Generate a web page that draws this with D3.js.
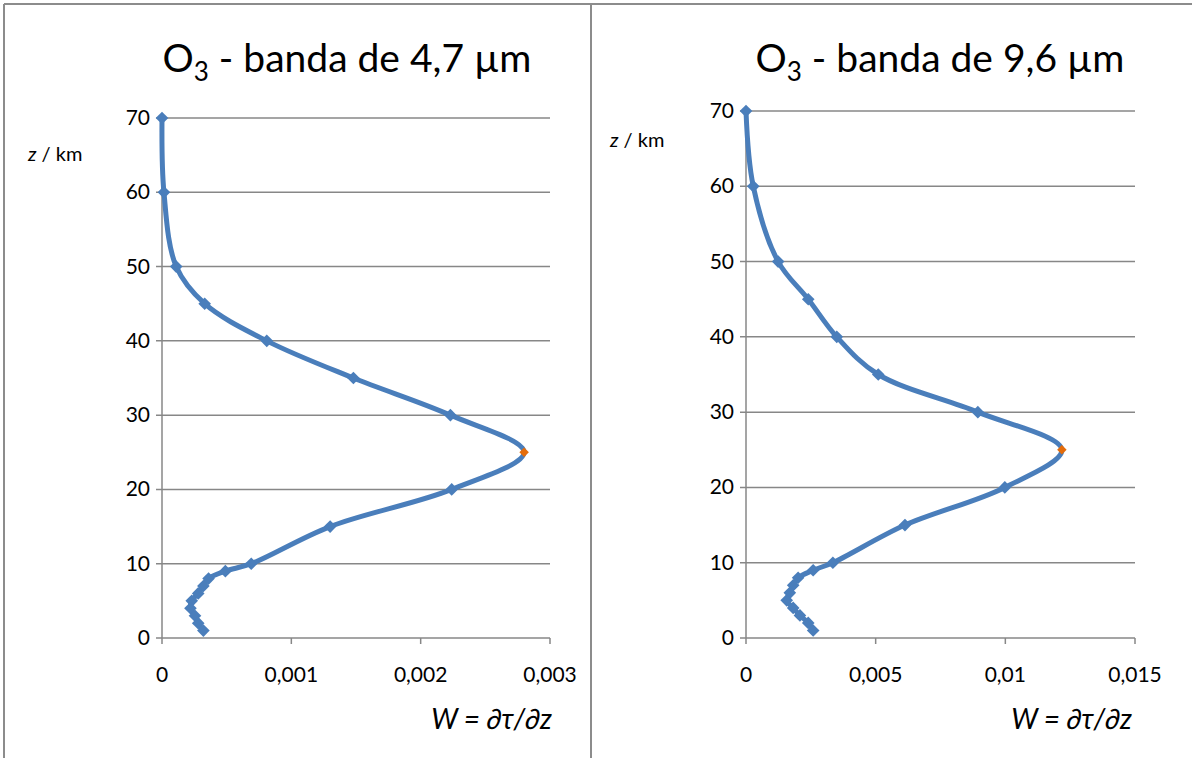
<!DOCTYPE html>
<html>
<head>
<meta charset="UTF-8">
<title>O3 - funciones peso</title>
<style>
  body { margin: 0; background: #fff; }
  text { font-family: Lato, "Open Sans", sans-serif; fill: #000; }
  .grid line { stroke: #878787; stroke-width: 1.5; }
</style>
</head>
<body>
<svg id="chart"></svg>
<script src="https://d3js.org/d3.v7.min.js"></script>
<script>

// altitude levels (km) and weighting function W = dtau/dz for each band
const zKm = [70, 60, 50, 45, 40, 35, 30, 25, 20, 15, 10, 9, 8, 7, 6, 5, 4, 3, 2, 1];
const wBand47 = [0, 0.000015, 0.00011, 0.00033, 0.00081, 0.00148, 0.00223, 0.0028, 0.00224, 0.0013,
                 0.00069, 0.00049, 0.00036, 0.00032, 0.00028, 0.00023, 0.00022, 0.000255, 0.00028, 0.00032];
const wBand96 = [0, 0.00028, 0.00124, 0.0024, 0.0035, 0.0051, 0.00894, 0.01218, 0.00998, 0.00613,
                 0.00335, 0.00259, 0.00201, 0.00182, 0.00169, 0.00157, 0.00182, 0.00208, 0.0024, 0.00259];
const peakZ = 25;
const yTicks = [0, 10, 20, 30, 40, 50, 60, 70];
const xTicks47 = [0, 0.001, 0.002, 0.003];
const xTicks96 = [0, 0.005, 0.01, 0.015];
const titles = ["4,7 µm", "9,6 µm"];

const width = 1192, height = 758;
const svg = d3.select("#chart").attr("width", width).attr("height", height);

const locale = d3.formatLocale({decimal: ",", thousands: ".", grouping: [3], currency: ["", ""]});
const fmt = locale.format("~g");

const blue = "#4a7ebb", orange = "#e46c0a";

// chart frames
svg.append("line").attr("x1", 4).attr("x2", width).attr("y1", 4).attr("y2", 4)
    .attr("stroke", "#8c8c8c").attr("stroke-width", 2);
svg.append("line").attr("x1", 4).attr("x2", 4).attr("y1", 4).attr("y2", height)
    .attr("stroke", "#8c8c8c").attr("stroke-width", 2);
svg.append("line").attr("x1", 591).attr("x2", 591).attr("y1", 4).attr("y2", height)
    .attr("stroke", "#8c8c8c").attr("stroke-width", 2);

let panels = [
  {w: wBand47, ticks: xTicks47, title: titles[0], x0: 162, x1: 550, yTop: 118, titleX: 347, zLabX: 28, zLabY: 161, wLabX: 552},
  {w: wBand96, ticks: xTicks96, title: titles[1], x0: 746, x1: 1135, yTop: 111, titleX: 940, zLabX: 610, zLabY: 147, wLabX: 1132}
];

panels.forEach(function(p) {
  let g = svg.append("g");
  let x = d3.scaleLinear().domain([0, p.ticks[p.ticks.length - 1]]).range([p.x0, p.x1]);
  let y = d3.scaleLinear().domain([0, 70]).range([638, p.yTop]);

  // horizontal gridlines
  g.append("g").attr("class", "grid")
    .selectAll("line").data(yTicks).enter().append("line")
      .attr("x1", p.x0 - 6).attr("x2", p.x1)
      .attr("y1", d => y(d)).attr("y2", d => y(d));

  // y axis line
  g.append("line").attr("x1", p.x0).attr("x2", p.x0).attr("y1", y(70)).attr("y2", y(0))
    .attr("stroke", "#878787").attr("stroke-width", 1.5);

  // x ticks (downwards)
  g.append("g").attr("class", "grid")
    .selectAll("line").data(p.ticks).enter().append("line")
      .attr("x1", d => x(d)).attr("x2", d => x(d))
      .attr("y1", y(0)).attr("y2", y(0) + 6);

  g.selectAll(".ylab").data(yTicks).enter().append("text")
    .attr("x", p.x0 - 12).attr("y", d => y(d) + 7)
    .attr("text-anchor", "end").style("font-size", "21px")
    .text(d => d);

  g.selectAll(".xlab").data(p.ticks).enter().append("text")
    .attr("x", d => x(d)).attr("y", 682)
    .attr("text-anchor", "middle").style("font-size", "21px")
    .text(d => fmt(d));

  // title
  let t = g.append("text").attr("x", p.titleX).attr("y", 72)
    .attr("text-anchor", "middle").style("font-size", "39px");
  t.append("tspan").text("O");
  t.append("tspan").attr("dy", 9).style("font-size", "26px").text("3");
  t.append("tspan").attr("dy", -9).text(" - banda de " + p.title);

  // axis names
  let zl = g.append("text").attr("x", p.zLabX).attr("y", p.zLabY).style("font-size", "20px");
  zl.append("tspan").style("font-style", "italic").text("z");
  zl.append("tspan").text(" / km");

  g.append("text").attr("x", p.wLabX).attr("y", 729)
    .attr("text-anchor", "end").style("font-size", "28px").style("font-style", "italic")
    .text("W = ∂τ/∂z");

  let pts = zKm.map((z, i) => ({z: z, w: p.w[i]}));

  // Excel-like smoothing
  let line = d3.line()
    .x(d => x(d.w)).y(d => y(d.z))
    .curve(d3.curveCatmullRom.alpha(0.5));

  g.append("path").datum(pts)
    .attr("d", line)
    .attr("fill", "none").attr("stroke", blue).attr("stroke-width", 5)
    .attr("stroke-linejoin", "round");

  g.selectAll(".pt").data(pts).enter().append("path")
    .attr("d", d3.symbol().type(d3.symbolSquare).size(d => d.z === peakZ ? 45 : 80))
    .attr("transform", d => "translate(" + x(d.w) + "," + y(d.z) + ") rotate(45)")
    .attr("fill", d => d.z === peakZ ? orange : blue);
});

</script>
</body>
</html>
